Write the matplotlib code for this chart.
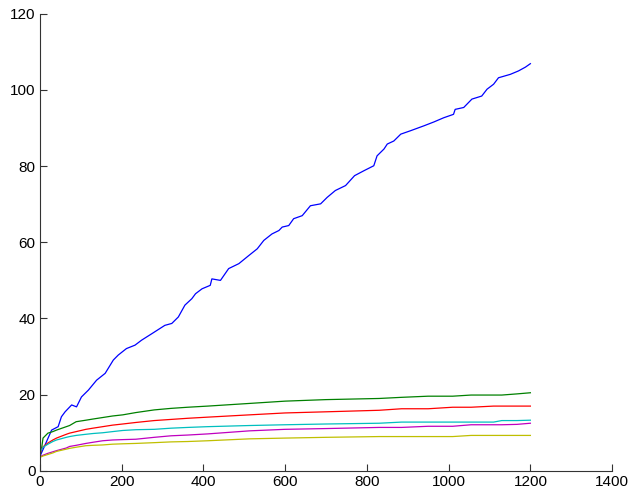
import numpy as np
import matplotlib
matplotlib.use('Agg')
import matplotlib.pyplot as plt

# blue series
blue_x = [0, 13, 29, 45, 53, 62, 78, 90, 102, 119, 139, 160, 180, 192, 212, 233, 249, 274,
          306, 323, 339, 355, 372, 381, 397, 417, 421, 442, 462, 487, 511, 532, 548, 568,
          585, 593, 609, 621, 642, 662, 687, 703, 723, 748, 770, 793, 817, 825, 842, 850,
          866, 883, 907, 940, 964, 988, 1012, 1016, 1037, 1057, 1081, 1094, 1110, 1122,
          1151, 1171, 1188, 1200]
blue_y = [3.7, 6.8, 10.7, 11.6, 14.2, 15.5, 17.3, 16.8, 19.4, 21.2, 23.8, 25.6, 29.1, 30.4,
          32.1, 33.0, 34.3, 36.0, 38.2, 38.7, 40.4, 43.5, 45.2, 46.5, 47.8, 48.7, 50.4, 50.0,
          53.1, 54.4, 56.5, 58.3, 60.5, 62.2, 63.1, 64.0, 64.4, 66.2, 67.0, 69.6, 70.1, 71.8,
          73.6, 74.9, 77.5, 78.8, 80.1, 82.7, 84.5, 85.8, 86.6, 88.4, 89.3, 90.6, 91.6, 92.7,
          93.6, 94.9, 95.4, 97.6, 98.4, 100.2, 101.5, 103.2, 104.1, 105.0, 106.0, 106.9]

# slow series share one x grid
small_x = [0, 4, 8, 20, 32, 41, 65, 73, 89, 113, 130, 154, 178, 203, 235, 280, 321, 362,
           411, 513, 600, 700, 830, 885, 950, 1010, 1055, 1110, 1130, 1167, 1200]
green_y = [4.0, 5.5, 8.6, 9.9, 10.3, 10.7, 11.6, 11.9, 12.9, 13.3, 13.6, 14.0, 14.4, 14.7,
           15.3, 16.0, 16.4, 16.7, 17.0, 17.7, 18.3, 18.7, 19.0, 19.3, 19.6, 19.6, 19.9, 19.9,
           19.9, 20.2, 20.5]
red_y = [4.5, 5.5, 6.3, 7.3, 8.1, 8.6, 9.6, 9.9, 10.3, 10.9, 11.2, 11.6, 12.0, 12.3, 12.7,
         13.2, 13.5, 13.8, 14.1, 14.7, 15.2, 15.5, 15.9, 16.3, 16.3, 16.7, 16.7, 17.0, 17.0,
         17.0, 17.0]
cyan_y = [5.0, 5.5, 6.2, 7.0, 7.7, 8.1, 8.8, 9.0, 9.3, 9.6, 9.8, 10.0, 10.3, 10.6, 10.8,
          10.9, 11.2, 11.4, 11.6, 11.9, 12.1, 12.3, 12.5, 12.8, 12.8, 12.8, 12.8, 12.8, 13.2,
          13.2, 13.3]
magenta_y = [3.7, 3.9, 4.1, 4.6, 5.0, 5.3, 6.0, 6.4, 6.7, 7.2, 7.5, 7.9, 8.1, 8.2, 8.3, 8.8,
             9.2, 9.4, 9.7, 10.5, 10.9, 11.1, 11.4, 11.4, 11.7, 11.7, 12.1, 12.1, 12.1, 12.2,
             12.5]
yellow_y = [3.5, 3.7, 3.9, 4.3, 4.7, 5.1, 5.7, 5.9, 6.2, 6.6, 6.7, 6.8, 7.0, 7.1, 7.2, 7.4,
            7.6, 7.7, 7.9, 8.4, 8.6, 8.8, 9.0, 9.0, 9.0, 9.0, 9.3, 9.3, 9.3, 9.3, 9.3]

xticks = [0, 200, 400, 600, 800, 1000, 1200, 1400]
yticks = [0, 20, 40, 60, 80, 100, 120]

plt.rcParams['font.family'] = ['Liberation Sans', 'DejaVu Sans']

fig = plt.figure(figsize=(6.36, 4.92), dpi=100)
ax = fig.add_axes([0.0625, 0.043, 0.9, 0.929])

lw = 0.9
ax.plot(blue_x, blue_y, color=(0, 0, 1), lw=lw)
ax.plot(small_x, green_y, color=(0, 0.5, 0), lw=lw)
ax.plot(small_x, red_y, color=(1, 0, 0), lw=lw)
ax.plot(small_x, cyan_y, color=(0, 0.75, 0.75), lw=lw)
ax.plot(small_x, magenta_y, color=(0.75, 0, 0.75), lw=lw)
ax.plot(small_x, yellow_y, color=(0.75, 0.75, 0), lw=lw)

ax.set_xlim(0, 1400)
ax.set_ylim(0, 120)
ax.set_xticks(xticks)
ax.set_yticks(yticks)
ax.spines['top'].set_visible(False)
ax.spines['right'].set_visible(False)
for s in ['left', 'bottom']:
    ax.spines[s].set_linewidth(0.8)
    ax.spines[s].set_color('#333333')
ax.tick_params(direction='in', length=5, width=0.8, color='#333333', labelsize=11, pad=3)

fig.savefig('out.png', dpi=100)
